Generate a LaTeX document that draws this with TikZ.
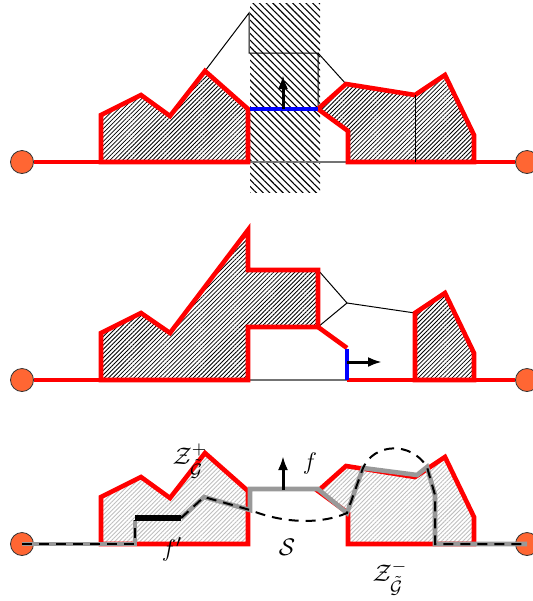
\documentclass[tikz,border=0pt]{standalone}
\usepackage{amsmath}
\usepackage{xcolor}
\usepackage{tikz}
\usetikzlibrary{
  arrows.meta,
  patterns,
  patterns.meta
}
\definecolor{endorange}{RGB}{255,102,51}
\tikzset{
  endpt/.style={
    circle,
    draw=black!80,
    thin,
    fill=endorange,
    minimum size=11.5pt,
    inner sep=0pt,
  },
  redline/.style={
    draw=red,
    line width=2.3pt,
  },
  hatchdense/.style={
    pattern={Lines[angle=45,distance=1.5pt,line width=0.4pt]},
    pattern color=black,
  },
  hatchlight/.style={
    pattern={Lines[angle=45,distance=1.5pt,line width=0.45pt]},
    pattern color=black!25,
  },
  hatchband/.style={
    pattern={Lines[angle=-45,distance=2.35pt,line width=0.55pt]},
    pattern color=black,
  },
  thinline/.style={
    draw=black,
    line width=0.5pt,
  },
  baseline/.style={
    draw=black!55,
    line width=0.7pt,
  },
  cutline/.style={
    draw=blue,
    line width=1.9pt,
  },
  dirarr/.style={
    -{Latex[length=7pt,width=5pt]},
    line width=1.5pt,
  },
  pathgray/.style={
    draw=black!40,
    line width=2.3pt,
  },
  pathdash/.style={
    draw=black,
    line width=1pt,
    dash pattern=on 5pt off 3.5pt,
  },
  lbl/.style={
    font=\fontsize{13}{15}\selectfont,
    inner sep=0pt,
  },
}

\begin{document}
\begin{tikzpicture}[x=0.5pt, y=-0.5pt]
  \useasboundingbox (0,0) rectangle (532,601);

  % --- Top: cut through the middle strip ---
  \fill[hatchband] (250,3) rectangle (320,192);

  \coordinate (a1) at (101,162);
  \coordinate (a2) at (474,162);
  \coordinate (apex) at (205,71);
  \coordinate (cutL) at (250,109);
  \coordinate (cutR) at (318,109);

  \draw[thinline] (apex) -- (249,13) -- (249,53) -- (318,53) -- (cutR);
  \draw[thinline] (318,53) -- (346,84);
  \draw[baseline] (248,162) -- (348,162);

  \draw[redline, hatchdense] (a1) -- (101,115) -- (141,95) -- (170,116)
    -- (apex) -- (248,109) -- (248,162) -- cycle;
  \draw[redline, hatchdense] (cutR) -- (346,84) -- (415,95) -- (445,75)
    -- (474,135) -- (a2) -- (348,162) -- (348,131) -- cycle;
  \draw[thinline] (415,95) -- (415,162);

  \node[endpt] (e1L) at (22,162) {};
  \node[endpt] (e1R) at (527,162) {};
  \draw[redline] (e1L) -- (a1);
  \draw[redline] (a2) -- (e1R);

  \draw[cutline] (cutL) -- (cutR);
  \coordinate (up1) at (283,75);
  \draw[dirarr] (283,109) -- (up1);

  % --- Middle: after the shift ---
  \coordinate (b1) at (101,380);
  \coordinate (b2) at (415,380);
  \coordinate (b3) at (474,380);
  \coordinate (knee) at (347,303);
  \coordinate (wallT) at (347,348);
  \coordinate (wallB) at (347,380);

  \draw[baseline] (248,380) -- (wallB);
  \draw[thinline] (318,270) -- (knee) -- (318,327);
  \draw[thinline] (knee) -- (415,313);

  \draw[redline, hatchdense] (b1) -- (101,333) -- (141,313) -- (170,333)
    -- (248,230) -- (248,270) -- (318,270) -- (318,327) -- (248,327)
    -- (248,380) -- cycle;
  \draw[redline, hatchdense] (b2) -- (415,313) -- (445,293) -- (474,353)
    -- (b3) -- cycle;
  \draw[redline] (318,327) -- (wallT);
  \draw[redline] (wallB) -- (b2);

  \node[endpt] (e2L) at (22,380) {};
  \node[endpt] (e2R) at (527,380) {};
  \draw[redline] (e2L) -- (b1);
  \draw[redline] (b3) -- (e2R);

  \draw[cutline] (347,349) -- (wallB);
  \coordinate (right2) at (382,362);
  \draw[dirarr] (347,362) -- (right2);

  % --- Bottom: the two zones and the paths ---
  \draw[redline, hatchlight] (101,544) -- (101,497) -- (141,477) -- (170,498)
    -- (205,453) -- (248,491) -- (248,544) -- cycle;
  \draw[redline, hatchlight] (318,491) -- (346,466) -- (415,477) -- (445,457)
    -- (474,517) -- (474,544) -- (348,544) -- (348,513) -- cycle;

  \node[endpt] (e3L) at (22,544) {};
  \node[endpt] (e3R) at (527,544) {};

  \coordinate (s1) at (135,518);
  \coordinate (s2) at (181,518);
  \coordinate (p1) at (250,510);
  \coordinate (p2) at (347,513);
  \coordinate (q1) at (363,468);
  \coordinate (q2) at (427,467);

  \draw[pathgray] (e3L.center) -- (135,544) -- (135,520);
  \draw[pathgray] (s2) -- (204,497) -- (p1) -- (250,489) -- (318,489)
    -- (p2) -- (q1) -- (417,475) -- (q2) -- (435,495) -- (435,544)
    -- (e3R.center);
  \draw[line width=3.3pt] (s1) -- (s2);

  \draw[pathdash] (e3L.center) -- (135,544) -- (135,520);
  \draw[pathdash] (s2) -- (204,497) -- (p1)
    .. controls (285,524) and (322,524) .. (p2) -- (q1)
    .. controls (374,443) and (411,441) .. (q2) -- (435,495) -- (435,544)
    -- (e3R.center);

  \coordinate (up3) at (283,456);
  \draw[dirarr] (283,490) -- (up3);

  \node[lbl] (zplus)  at (190,461) {$\mathcal{Z}^+_{\tilde{\mathcal{G}}}$};
  \node[lbl] (fup)    at (310,463) {$f$};
  \node[lbl] (fprime) at (172,549) {$f'$};
  \node[lbl] (sset)   at (287,547) {$\mathcal{S}$};
  \node[lbl] (zminus) at (390,578) {$\mathcal{Z}^-_{\tilde{\mathcal{G}}}$};
\end{tikzpicture}
\end{document}
